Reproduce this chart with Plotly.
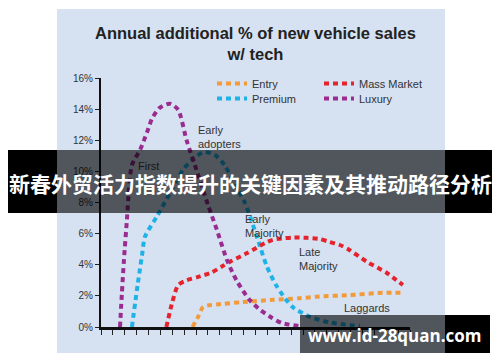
import plotly.graph_objects as go

# ---- data ----
series_names = ["Entry", "Premium", "Mass Market", "Luxury"]

entry_x = [7.7, 8.2, 8.6, 9.1, 9.75, 11.9, 14.5, 16.7, 18.2, 20.9, 23.7, 25.5]
entry_y = [0, 0.7, 1.3, 1.4, 1.45, 1.6, 1.75, 1.85, 1.95, 2.05, 2.2, 2.2]

premium_x = [2.6, 3.1, 3.45, 3.7, 4.7, 5.8, 6.9, 7.9, 8.7, 9.6, 10.4, 11.3, 12.1, 12.7, 13.2,
             13.95, 14.8, 16.1, 17.6, 19.2, 21.8]
premium_y = [0, 2.8, 4.6, 5.8, 7.1, 8.6, 10.1, 10.9, 11.25, 11.05, 10.4, 9.1, 8.0, 6.75, 5.6,
             3.9, 2.6, 1.3, 0.65, 0.3, 0.05]

mass_x = [5.5, 6.0, 6.5, 7.2, 8.1, 9.3, 10.2, 11.0, 12.3, 13.1, 13.8, 14.45, 15.3, 16.2, 17.3,
          18.4, 19.2, 20.1, 20.8, 22.35, 24.0, 25.4]
mass_y = [0, 1.6, 2.7, 3.0, 3.2, 3.5, 3.9, 4.25, 4.75, 5.1, 5.4, 5.6, 5.7, 5.75, 5.73,
          5.65, 5.47, 5.27, 5.0, 4.2, 3.5, 2.7]

luxury_x = [1.6, 1.76, 1.93, 2.18, 2.35, 2.6, 3.3, 3.87, 4.3, 4.96, 5.8, 6.5, 7.2, 7.9, 9.0,
            9.75, 10.6, 11.4, 12.5, 13.4, 14.4, 15.2, 16.7]
luxury_y = [0, 2.2, 4.3, 6.9, 8.8, 10.4, 11.4, 12.5, 13.4, 14.1, 14.35, 13.95, 12.0, 10.4, 7.85,
            6.24, 4.3, 3.0, 1.74, 1.1, 0.58, 0.26, 0.05]

y_ticks = [0, 2, 4, 6, 8, 10, 12, 14, 16]

stage_labels = ["First", "Early<br>adopters", "Early<br>Majority", "Late<br>Majority", "Laggards"]
stage_x = [2.94, 7.98, 11.93, 16.47, 20.25]
stage_y = [10.35, 12.2, 6.46, 4.34, 1.22]

title_text = "Annual additional % of new vehicle sales<br>w/ tech"
banner_text = "新春外贸活力指数提升的关键因素及其推动路径分析"
watermark_text = "www.id-28quan.com"

colors = {"Entry": "#f39a3b", "Premium": "#1fb2e6", "Mass Market": "#e6232d", "Luxury": "#9a2b8f"}
legend_of = {"Entry": "legend", "Premium": "legend2", "Mass Market": "legend3", "Luxury": "legend4"}

data = {
    "Entry": (entry_x, entry_y),
    "Premium": (premium_x, premium_y),
    "Mass Market": (mass_x, mass_y),
    "Luxury": (luxury_x, luxury_y),
}

FONT = "Liberation Sans, Arial, sans-serif"
W, H = 500, 362

fig = go.Figure()
for name in series_names:
    xs, ys = data[name]
    fig.add_trace(go.Scatter(
        x=xs, y=ys, mode="lines", name=name,
        line=dict(color=colors[name], width=4, dash="5px,4px", shape="spline", smoothing=0.7),
        legend=legend_of[name], hoverinfo="skip",
    ))

# pixel -> paper helpers (plot area: x 101..410, y 78..327)
L, R, T, B = 101, 410, 78, 327
def px(x):
    return (x - L) / (R - L)
def py(y):
    return (B - y) / (B - T)

shapes = [
    # light blue panel
    dict(type="rect", xref="paper", yref="paper", x0=px(57), x1=px(445), y0=py(353), y1=py(9),
         fillcolor="#d6e1f1", line=dict(width=0), layer="below"),
    # banner
    dict(type="rect", xref="paper", yref="paper", x0=px(8), x1=px(57), y0=py(213), y1=py(150),
         fillcolor="#000000", line=dict(width=0), layer="above"),
    dict(type="rect", xref="paper", yref="paper", x0=px(445), x1=px(492), y0=py(213), y1=py(150),
         fillcolor="#000000", line=dict(width=0), layer="above"),
    dict(type="rect", xref="paper", yref="paper", x0=px(57), x1=px(445), y0=py(213), y1=py(150),
         fillcolor="rgba(0,0,0,0.62)", line=dict(width=0), layer="above"),
    # watermark box
    dict(type="rect", xref="paper", yref="paper", x0=px(300), x1=px(445), y0=py(353), y1=py(315),
         fillcolor="rgba(0,0,0,0.62)", line=dict(width=0), layer="above"),
    dict(type="rect", xref="paper", yref="paper", x0=px(445), x1=px(490), y0=py(353), y1=py(315),
         fillcolor="#000000", line=dict(width=0), layer="above"),
]

annotations = [
    dict(text=title_text, xref="paper", yref="paper", x=px(255), y=py(43), xanchor="center",
         yanchor="middle", showarrow=False,
         font=dict(family=FONT, size=16.5, color="#222222", weight="bold")),
]
for i, (t, sx, sy) in enumerate(zip(stage_labels, stage_x, stage_y)):
    annotations.append(dict(text=t, x=sx, y=sy, xref="x", yref="y", xanchor="left",
                            yanchor="middle", showarrow=False, align="left",
                            font=dict(family=FONT, size=11,
                                      color="#161616" if i == 0 else "#333333")))
annotations.append(dict(text=banner_text, xref="paper", yref="paper", x=px(250), y=py(183),
                        xanchor="center", yanchor="middle", showarrow=False,
                        font=dict(family="Noto Sans CJK SC", size=21, color="white", weight="bold")))
annotations.append(dict(text=watermark_text, xref="paper", yref="paper", x=px(395), y=py(335),
                        xanchor="center", yanchor="middle", showarrow=False,
                        font=dict(family="Open Sans", size=17, color="white", weight="bold")))

legend_common = dict(bgcolor="rgba(0,0,0,0)", font=dict(family=FONT, size=11, color="#333333"),
                     itemwidth=30, xanchor="left", yanchor="top", orientation="v",
                     tracegroupgap=0, xref="container", yref="container")

fig.update_layout(
    width=W, height=H, autosize=False,
    margin=dict(l=L, r=W - R, t=T, b=H - B, pad=0, autoexpand=False),
    paper_bgcolor="white", plot_bgcolor="rgba(0,0,0,0)",
    showlegend=True,
    legend=dict(x=212 / W, y=1 - 69 / H, **legend_common),
    legend2=dict(x=212 / W, y=1 - 84 / H, **legend_common),
    legend3=dict(x=319 / W, y=1 - 69 / H, **legend_common),
    legend4=dict(x=319 / W, y=1 - 84 / H, **legend_common),
    xaxis=dict(range=[0, 26], showgrid=False, zeroline=False, showline=True, linecolor="#111111",
               linewidth=3, ticks="outside", ticklen=5, tickwidth=1, tickcolor="#222222",
               tick0=0, dtick=1, showticklabels=False, fixedrange=True, automargin=False),
    yaxis=dict(range=[0, 16], showgrid=False, zeroline=False, showline=True, linecolor="#111111",
               linewidth=2, ticks="outside", ticklen=4, tickwidth=1, tickcolor="#222222",
               tickvals=y_ticks, ticktext=[f"{v}%" for v in y_ticks], automargin=False,
               tickfont=dict(family=FONT, size=10, color="#333333"), fixedrange=True),
    shapes=shapes,
    annotations=annotations,
)

fig.write_html(
    "out.html",
    config={"displayModeBar": False},
    post_script="document.body.style.margin='0';document.body.style.overflow='hidden';",
)
